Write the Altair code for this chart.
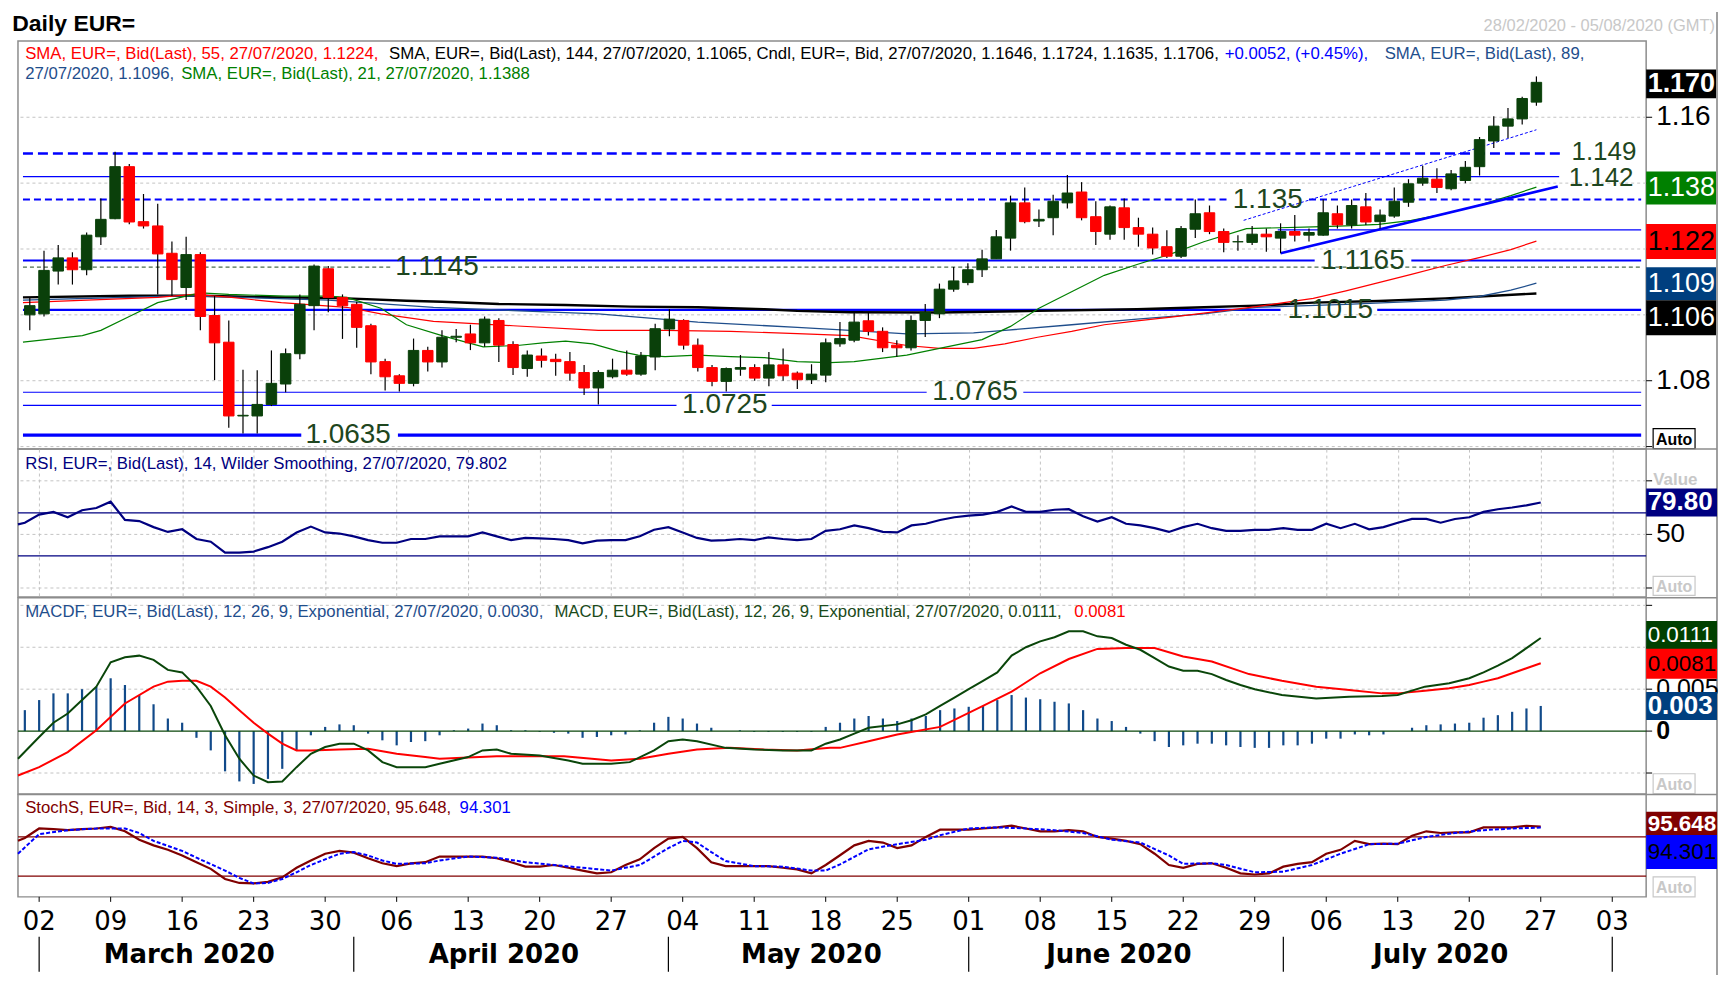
import altair as alt
import pandas as pd

FONT = "Liberation Sans"
GRID = "#c3c3c3"
BLUE = "#0000ff"
LVL_TXT = "#1e4620"
UP = "#0a400a"
DOWN = "#ff0000"

W = 1631.5
H_MAIN, H_RSI, H_MACD, H_ST = 409, 148.2, 196.6, 102.7
X_DOMAIN = [-1.48, 112.37]
EDGE = -1.48
RIGHT = 1702.5   # right frame, relative to the plot's left edge

# ---------------- candles (trading-day index: 0 = Mon 02/03/2020, -1 = Fri 28/02/2020) ----------------
day_index = list(range(-1, 106))
opens = [1.1000,
         1.1003, 1.1133, 1.1173, 1.1137, 1.1237, 1.1292, 1.1450, 1.1283, 1.1270, 1.1187,
         1.1083, 1.1183, 1.0998, 1.0917, 1.0693, 1.0693, 1.0728, 1.0790, 1.0882, 1.1028,
         1.1140, 1.1053, 1.1032, 1.0967, 1.0858, 1.0815, 1.0792, 1.0892, 1.0857, 1.0932,
         1.0942, 1.0915, 1.0983, 1.0910, 1.0837, 1.0875, 1.0865, 1.0858, 1.0825, 1.0778,
         1.0812, 1.0832, 1.0820, 1.0872, 1.0957, 1.0983, 1.0908, 1.0840, 1.0798, 1.0835,
         1.0840, 1.0808, 1.0848, 1.0823, 1.0803, 1.0817, 1.0912, 1.0923, 1.0982, 1.0950,
         1.0908, 1.0900, 1.0983, 1.1003, 1.1078, 1.1098, 1.1137, 1.1170, 1.1233, 1.1340,
         1.1285, 1.1295, 1.1340, 1.1373, 1.1298, 1.1245, 1.1325, 1.1265, 1.1245, 1.1207,
         1.1178, 1.1260, 1.1310, 1.1253, 1.1222, 1.1220, 1.1245, 1.1233, 1.1253, 1.1242,
         1.1242, 1.1307, 1.1273, 1.1328, 1.1283, 1.1300, 1.1342, 1.1400, 1.1412, 1.1383,
         1.1408, 1.1450, 1.1528, 1.1573, 1.1595, 1.1646]
highs = [1.1053,
         1.1195, 1.1212, 1.1190, 1.1250, 1.1353, 1.1495, 1.1458, 1.1367, 1.1337, 1.1223,
         1.1237, 1.1190, 1.1057, 1.0983, 1.0833, 1.0832, 1.0892, 1.0898, 1.1062, 1.1153,
         1.1148, 1.1062, 1.1040, 1.0973, 1.0867, 1.0820, 1.0928, 1.0903, 1.0953, 1.0957,
         1.0970, 1.0995, 1.0990, 1.0920, 1.0892, 1.0898, 1.0882, 1.0887, 1.0848, 1.0832,
         1.0867, 1.0892, 1.0887, 1.0973, 1.1017, 1.0987, 1.0928, 1.0848, 1.0840, 1.0878,
         1.0850, 1.0887, 1.0898, 1.0828, 1.0850, 1.0928, 1.0978, 1.1007, 1.1007, 1.0962,
         1.0923, 1.0998, 1.1033, 1.1095, 1.1145, 1.1157, 1.1198, 1.1258, 1.1362, 1.1387,
         1.1320, 1.1365, 1.1425, 1.1403, 1.1345, 1.1332, 1.1353, 1.1295, 1.1265, 1.1257,
         1.1270, 1.1350, 1.1332, 1.1262, 1.1242, 1.1270, 1.1262, 1.1278, 1.1303, 1.1262,
         1.1350, 1.1332, 1.1350, 1.1370, 1.1320, 1.1387, 1.1412, 1.1453, 1.1445, 1.1440,
         1.1467, 1.1540, 1.1603, 1.1628, 1.1662, 1.1724]
lows = [1.0953,
        1.0995, 1.1092, 1.1092, 1.1120, 1.1212, 1.1290, 1.1275, 1.1262, 1.1062, 1.1057,
        1.1045, 1.0953, 1.0802, 1.0657, 1.0640, 1.0640, 1.0723, 1.0765, 1.0865, 1.0953,
        1.1008, 1.0927, 1.0900, 1.0820, 1.0770, 1.0767, 1.0783, 1.0828, 1.0840, 1.0917,
        1.0893, 1.0903, 1.0857, 1.0817, 1.0812, 1.0840, 1.0815, 1.0800, 1.0757, 1.0728,
        1.0807, 1.0815, 1.0815, 1.0832, 1.0935, 1.0895, 1.0828, 1.0783, 1.0767, 1.0815,
        1.0800, 1.0783, 1.0800, 1.0775, 1.0790, 1.0795, 1.0903, 1.0917, 1.0937, 1.0887,
        1.0873, 1.0892, 1.0933, 1.0990, 1.1070, 1.1090, 1.1115, 1.1170, 1.1195, 1.1278,
        1.1267, 1.1242, 1.1323, 1.1287, 1.1212, 1.1228, 1.1228, 1.1207, 1.1183, 1.1173,
        1.1173, 1.1233, 1.1245, 1.1190, 1.1195, 1.1212, 1.1192, 1.1187, 1.1223, 1.1223,
        1.1240, 1.1262, 1.1262, 1.1273, 1.1262, 1.1295, 1.1328, 1.1392, 1.1370, 1.1378,
        1.1400, 1.1423, 1.1507, 1.1537, 1.1578, 1.1635]
closes = [1.1028,
          1.1135, 1.1173, 1.1137, 1.1242, 1.1290, 1.1450, 1.1282, 1.1270, 1.1185, 1.1107,
          1.1183, 1.0995, 1.0915, 1.0693, 1.0695, 1.0728, 1.0792, 1.0882, 1.1032, 1.1148,
          1.1053, 1.1028, 1.0962, 1.0857, 1.0812, 1.0792, 1.0892, 1.0857, 1.0932, 1.0935,
          1.0915, 1.0987, 1.0908, 1.0840, 1.0878, 1.0862, 1.0858, 1.0823, 1.0778, 1.0825,
          1.0832, 1.0820, 1.0875, 1.0958, 1.0987, 1.0908, 1.0840, 1.0798, 1.0837, 1.0840,
          1.0808, 1.0848, 1.0815, 1.0803, 1.0820, 1.0915, 1.0928, 1.0978, 1.0950, 1.0900,
          1.0900, 1.0983, 1.1008, 1.1078, 1.1103, 1.1137, 1.1170, 1.1237, 1.1340, 1.1283,
          1.1290, 1.1345, 1.1370, 1.1295, 1.1253, 1.1328, 1.1265, 1.1245, 1.1203, 1.1178,
          1.1262, 1.1307, 1.1253, 1.1220, 1.1222, 1.1245, 1.1237, 1.1253, 1.1242, 1.1250,
          1.1310, 1.1273, 1.1332, 1.1282, 1.1303, 1.1345, 1.1398, 1.1415, 1.1387, 1.1428,
          1.1448, 1.1532, 1.1573, 1.1595, 1.1657, 1.1706]

# ---------------- moving averages (index, value) ----------------
sma21_i = [-1.48, 2.7, 4, 6, 8, 11, 13, 17, 20, 21.3, 23.7, 25.5, 28, 30.9, 33.3, 35.1, 36.7, 38.6, 40.4, 41.8,
           43.7, 46, 48.3, 50.7, 53, 55.3, 57, 60.7, 63, 66, 68, 70, 72.3, 74.6, 76.9, 79.3, 81.6, 84.6, 89.3, 91.6,
           93.9, 96.2, 98.6, 100.9, 103.2, 105]
sma21_v = [1.0917, 1.0937, 1.0953, 1.0995, 1.1037, 1.1067, 1.1062, 1.1057, 1.1057, 1.1053, 1.1020, 1.0970, 1.0937,
           1.0903, 1.0907, 1.0915, 1.0920, 1.0912, 1.0890, 1.0878, 1.0873, 1.0878, 1.0873, 1.0870, 1.0858, 1.0855,
           1.0858, 1.0878, 1.0898, 1.0925, 1.0965, 1.1020, 1.1070, 1.1120, 1.1153, 1.1185, 1.1222, 1.1262, 1.1267,
           1.1270, 1.1275, 1.1287, 1.1307, 1.1332, 1.1362, 1.1388]
sma55_i = [-1.48, 8, 10.5, 13.2, 16.7, 21.3, 23.7, 27.4, 33, 39, 43.7, 48.3, 53, 56.7, 60.7, 63, 65.4, 67.6, 69.9,
           72.3, 74.6, 76.9, 79.3, 81.6, 85.3, 89.3, 91.6, 93.9, 96.2, 98.6, 100.9, 103.2, 105]
sma55_v = [1.1037, 1.1053, 1.1062, 1.1053, 1.1037, 1.1023, 1.1003, 1.0980, 1.0967, 1.0953, 1.0953, 1.0950, 1.0943,
           1.0937, 1.0907, 1.0898, 1.0898, 1.0912, 1.0932, 1.0950, 1.0970, 1.0982, 1.0993, 1.1005, 1.1025, 1.1050,
           1.1073, 1.1098, 1.1123, 1.1150, 1.1173, 1.1198, 1.1224]
sma89_i = [-1.48, 10, 20, 27.4, 33, 39, 46, 53, 56.7, 60.7, 65.4, 67.6, 72.3, 76.9, 81.6, 85.3, 91.6, 96.2, 98.6,
           100.9, 103.2, 105]
sma89_v = [1.1045, 1.1058, 1.1045, 1.1023, 1.1013, 1.1003, 1.0978, 1.0962, 1.0953, 1.0942, 1.0945, 1.0953, 1.0970,
           1.0987, 1.1003, 1.1023, 1.1032, 1.1040, 1.1045, 1.1055, 1.1075, 1.1096]
sma144_i = [-1.48, 6, 11, 16.7, 21.3, 25.5, 28, 32, 36.7, 41.3, 46, 50.7, 53, 56.7, 63, 69.9, 76.9, 81.6, 85.3,
            89.3, 93.9, 98.6, 102, 105]
sma144_v = [1.1053, 1.1058, 1.1058, 1.1053, 1.1050, 1.1043, 1.1040, 1.1033, 1.1030, 1.1025, 1.1023, 1.1017, 1.1012,
            1.1008, 1.1007, 1.1012, 1.1017, 1.1023, 1.1028, 1.1037, 1.1042, 1.1050, 1.1058, 1.1065]

# ---------------- support / resistance levels ----------------
seg_level = [1.149, 1.142, 1.135, 1.135, 1.1258, 1.1165, 1.1165, 1.1145, 1.1145, 1.1015, 1.1015,
             1.0765, 1.0765, 1.0725, 1.0725, 1.0635, 1.0635]
seg_start = [EDGE, EDGE, EDGE, 89.0, 86.8, EDGE, 96.2, EDGE, 30.9, EDGE, 93.8,
             EDGE, 68.9, EDGE, 51.2, EDGE, 24.9]
seg_end = [106.8, 106.6, 83.2, 112.37, 112.37, 89.4, 112.37, 24.4, 112.37, 87.0, 112.37,
           62.1, 112.37, 44.5, 112.37, 18.1, 112.37]
seg_style = ["thickdash", "thin", "meddash", "meddash", "thin", "thick", "thick", "greendash", "greendash",
             "thick", "thick", "thin", "thin", "thin", "thin", "heavy", "heavy"]
styles = {"thickdash": (BLUE, 2.6, [10, 5]), "thin": (BLUE, 1.2, None), "meddash": (BLUE, 2.0, [7, 4]),
          "thick": (BLUE, 2.2, None), "greendash": (LVL_TXT, 1.0, [4, 3]), "heavy": (BLUE, 3.2, None)}
lab_text = ["1.149", "1.142", "1.135", "1.1165", "1.1145", "1.1015", "1.0765", "1.0725", "1.0635"]
lab_idx = [109.75, 109.55, 86.1, 92.8, 27.65, 90.5, 65.5, 47.9, 21.4]
lab_level = [1.1494, 1.1416, 1.135, 1.1165, 1.1145, 1.1015, 1.0765, 1.0725, 1.0635]
lab_size = [26, 26, 28, 28, 28, 28, 28, 28, 28]

trend_x0 = [87.0, 84.4]
trend_y0 = [1.1187, 1.1287]
trend_x1 = [106.5, 105.0]
trend_y1 = [1.1390, 1.1562]

# ---------------- indicators ----------------
ind_index = [EDGE] + list(range(-1, 106))
rsi = [59.4, 60.9,
       68.5, 71, 66, 72.5, 74.6, 80.5, 63.5, 62.4, 56.8, 52.3,
       54.8, 45.7, 43.2, 33, 33, 34, 38.1, 43.2, 51.8, 57.3,
       51.8, 50.8, 48.2, 44.7, 42.2, 42.2, 45.7, 45.7, 48.2, 48.2,
       48.2, 51.8, 48.2, 44.7, 46.7, 46.2, 45.7, 44.7, 41.6, 44.2,
       44.7, 44.7, 48.2, 54.3, 56.8, 51.8, 46.7, 44.2, 44.7, 45.7,
       44.7, 47.2, 45.7, 44.7, 45.7, 53.3, 54.8, 58.4, 55.8, 52.3,
       51.8, 58.4, 59.9, 63.4, 66, 67.5, 68.5, 71, 76.1, 71,
       71, 73, 73.5, 67, 61.9, 66, 59.9, 58.4, 55.8, 52.3,
       56.8, 59.9, 55.8, 53.3, 53.3, 54.3, 54.3, 55.8, 54.3, 54.3,
       59.9, 55.8, 59.9, 54.8, 56.8, 60.9, 64.4, 64.4, 60.9, 64.4,
       66, 71, 73.5, 75.1, 77.1, 79.8]
stoch_k = [74, 78.3,
           92.9, 92, 90.3, 92, 92.9, 95.4, 88.6, 75.7, 67.1, 60.3,
           51.7, 41.4, 31.2, 15.7, 9.7, 8.9, 11.4, 18.3, 32.9, 44,
           54.3, 58.6, 56, 47.4, 39.7, 35.4, 39.7, 41.4, 50, 50,
           50, 50, 47.4, 41.4, 34.6, 34.6, 37.1, 32.9, 28.6, 24.3,
           26, 37.1, 45.7, 62.9, 77.4, 80, 62.9, 41.4, 35.4, 35.4,
           35.4, 35.4, 32.9, 30.3, 24.3, 37.1, 52, 67.1, 74, 71.4,
           62.9, 67.1, 80, 91.1, 91.1, 91.1, 92.9, 94.6, 97.1, 92.9,
           88.6, 88.6, 90.3, 88.6, 80, 77.4, 74, 68.9, 54.3, 37.1,
           32.9, 38.9, 39.7, 32.9, 24.3, 22.6, 24.3, 34.6, 38.9, 41.4,
           54.3, 60.3, 74, 68.9, 69.7, 68.9, 81.7, 88.6, 86, 86.9,
           86.9, 94.6, 94.6, 94.6, 97.1, 95.6]
stoch_d_i = [EDGE, 0, 2, 4, 6, 7, 8, 10, 11, 13, 14, 15, 16, 17, 18, 19, 20, 21, 22, 23, 24, 25, 27, 28, 30, 32, 34,
             36, 38, 40, 42, 43, 44, 45, 46, 47, 48, 50, 52, 54, 55, 56, 58, 60, 62, 63, 65, 67, 69, 71, 73, 75, 77,
             79, 80, 82, 83, 85, 87, 89, 91, 93, 95, 97, 99, 101, 103, 105]
stoch_d_v = [54.3, 84.3, 90.3, 92.9, 92.9, 86, 74, 58.6, 48.3, 28.6, 17.4, 8.9, 9.7, 15.7, 26, 37.1, 45.7, 54.3,
             56.9, 51.7, 44, 38.9, 39.7, 44, 50, 48.3, 41.4, 37.1, 32.9, 28.6, 37.1, 50, 62.9, 74, 71.4, 56.9, 43.1,
             35.4, 34.6, 28.6, 28.6, 38, 61.1, 68.9, 75.7, 82.6, 92.9, 94.6, 92.9, 90.3, 86, 75.7, 71.4, 51.7, 38.9,
             39.7, 37.1, 26, 26.9, 37.1, 54.3, 68.9, 69.7, 80, 86, 90.3, 92.9, 94.3]
macd_hist = [0.0025,
             0.0037, 0.0045, 0.0045, 0.0050, 0.0053, 0.0063, 0.0055, 0.0043, 0.0032, 0.0015,
             0.0010, -0.0008, -0.0023, -0.0048, -0.0060, -0.0063, -0.0057, -0.0045, -0.0023, -0.0005,
             0.0005, 0.0008, 0.0007, -0.0003, -0.0011, -0.0017, -0.0013, -0.0012, -0.0005, 0.0001,
             0.0003, 0.0009, 0.0007, 0.0001, 0.0001, -0.0001, -0.0002, -0.0003, -0.0008, -0.0007,
             -0.0005, -0.0004, 0.0001, 0.0010, 0.0017, 0.0015, 0.0009, 0.0004, 0.0000, 0.0001,
             -0.0001, -0.0001, -0.0001, -0.0001, -0.0001, 0.0005, 0.0010, 0.0015, 0.0018, 0.0015,
             0.0012, 0.0015, 0.0018, 0.0025, 0.0027, 0.0029, 0.0030, 0.0037, 0.0043, 0.0040,
             0.0038, 0.0035, 0.0033, 0.0025, 0.0015, 0.0012, 0.0005, -0.0003, -0.0012, -0.0019,
             -0.0017, -0.0015, -0.0015, -0.0017, -0.0019, -0.0020, -0.0020, -0.0017, -0.0017, -0.0015,
             -0.0009, -0.0009, -0.0004, -0.0005, -0.0004, 0.0000, 0.0004, 0.0007, 0.0008, 0.0009,
             0.0010, 0.0016, 0.0019, 0.0023, 0.0027, 0.0030]
macd_i = [EDGE, 0, 1, 2, 3, 4, 5, 6, 7, 8,
          9, 10, 11, 12, 13, 14, 15, 16, 17, 18, 19, 20, 21, 22, 23, 24, 25, 26, 27, 28,
          30, 31, 32, 33, 35, 37, 38, 40, 41.3, 43,
          44, 45, 46, 48, 50, 52, 54, 55, 56, 57,
          58, 60, 61, 62, 63, 64, 65, 66, 67, 68,
          69, 70, 71, 72, 73, 74, 75, 76, 77, 78, 79, 80, 81, 82, 83, 84, 85,
          86.9, 89.3, 91.6, 93.9, 95, 96.9, 98.6, 100, 101, 102,
          103, 104, 105]
macd_v = [-0.0033, -0.0007, 0.0010, 0.0021, 0.0037, 0.0053, 0.0082, 0.0088, 0.0090, 0.0085,
          0.0073, 0.0070, 0.0053, 0.0030, -0.0005, -0.0033, -0.0053, -0.0061, -0.0060, -0.0043,
          -0.0027, -0.0019, -0.0015, -0.0015, -0.0023, -0.0037, -0.0043, -0.0043, -0.0043, -0.0039,
          -0.0031, -0.0023, -0.0022, -0.0027, -0.0029, -0.0035, -0.0039, -0.0039, -0.0037, -0.0023,
          -0.0012, -0.0010, -0.0012, -0.0020, -0.0022, -0.0023, -0.0023, -0.0015, -0.0010, -0.0003,
          0.0004, 0.0008, 0.0013, 0.0020, 0.0030, 0.0040, 0.0050, 0.0060, 0.0070, 0.0090,
          0.0100, 0.0107, 0.0112, 0.0119, 0.0119, 0.0113, 0.0111, 0.0103, 0.0097, 0.0087, 0.0077,
          0.0072, 0.0072, 0.0068, 0.0061, 0.0055, 0.0050,
          0.0043, 0.0039, 0.0041, 0.0042, 0.0043, 0.0053, 0.0057, 0.0063, 0.0070, 0.0078,
          0.0087, 0.0099, 0.0111]
sig_i = [EDGE, 0, 2, 4, 6, 8, 9, 10, 11, 12, 13, 14, 15, 16, 17, 18, 19, 21, 23, 25, 27, 28, 32, 36.7, 40, 42,
         44, 46, 48.3, 50.7, 53, 55.3, 56, 58, 60, 63, 66, 68, 70, 72, 74, 76, 78, 80, 82, 84.6, 86.9, 89.3, 91.6,
         93.9, 95, 96.9, 98.6, 100, 101, 102, 103, 104, 105]
sig_v = [-0.0053, -0.0043, -0.0025, 0.0001, 0.0033, 0.0053, 0.0059, 0.0060, 0.0060, 0.0053, 0.0040, 0.0025,
         0.0010, -0.0003, -0.0015, -0.0023, -0.0023, -0.0022, -0.0021, -0.0027, -0.0031, -0.0033, -0.0030,
         -0.0030, -0.0035, -0.0033, -0.0027, -0.0022, -0.0020, -0.0022, -0.0023, -0.0020, -0.0020, -0.0012,
         -0.0004, 0.0005, 0.0030, 0.0047, 0.0069, 0.0086, 0.0098, 0.0099, 0.0099, 0.0089, 0.0083, 0.0068,
         0.0060, 0.0053, 0.0049, 0.0045, 0.0045, 0.0048, 0.0051, 0.0055, 0.0059, 0.0063, 0.0069, 0.0075, 0.0081]

# ---------------- axis ticks / labels / grids ----------------
day_ticks = list(range(0, 111, 5))
day_labels = ["02", "09", "16", "23", "30", "06", "13", "20", "27", "04", "11", "18", "25",
              "01", "08", "15", "22", "29", "06", "13", "20", "27", "03"]
month_names = ["March 2020", "April 2020", "May 2020", "June 2020", "July 2020"]
month_mid = [10.5, 32.5, 54.0, 75.5, 98.0]
month_start = [0, 22, 44, 65, 87, 110]
price_grid = [1.06, 1.08, 1.10, 1.12, 1.14, 1.16]
price_lab_v = [1.08, 1.16]
price_lab_t = ["1.08", "1.16"]
rsi_grid = [0, 50, 100]
rsi_lab_v = [50]
rsi_lab_t = ["50"]
macd_grid = [-0.005, 0.005, 0.010, 0.015]
macd_ticks = [-0.005, 0, 0.005, 0.010, 0.015]
macd_lab_v = [0.005, 0]
macd_lab_t = ["0.005", "0"]
macd_lab_w = ["normal", "bold"]

# ---------------- helpers ----------------
xs = alt.Scale(domain=X_DOMAIN, nice=False, zero=False)
ys_main = alt.Scale(domain=[1.05924, 1.18318], nice=False, zero=False)
ys_rsi = alt.Scale(domain=[-8.4, 129.6], nice=False, zero=False)
ys_macd = alt.Scale(domain=[-0.0075, 0.0159], nice=False, zero=False)
ys_st = alt.Scale(domain=[-11.6, 145.0], nice=False, zero=False)
one = pd.DataFrame({"k": [0]})
ZW = "\u200b"
BOX_W = RIGHT - W


def xq(f, axis=None):
    return alt.X(f, type="quantitative", scale=xs, axis=axis, title=None)


def yq(f, sc):
    return alt.Y(f, type="quantitative", scale=sc, axis=None, title=None)


def yd(v, sc):
    return alt.YDatum(v, type="quantitative", scale=sc, axis=None)


def label(text, x, y, color="black", size=16.8, weight="normal", align="left",
          baseline="alphabetic", font=FONT):
    return alt.Chart(one).mark_text(text=text, align=align, baseline=baseline, font=font,
                                    fontSize=size, fontWeight=weight, color=color).encode(
        x=alt.value(x), y=alt.value(y))


def vbox(v, sc, bg, fg, text, h, off=0.0, weight="normal", size=27):
    rect = alt.Chart(one).mark_tick(orient="horizontal", size=BOX_W, thickness=h, color=bg,
                                    opacity=1, yOffset=off).encode(x=alt.value(W + BOX_W / 2), y=yd(v, sc))
    t = alt.Chart(one).mark_text(text=text, align="left", baseline="middle", font=FONT,
                                 fontSize=size, fontWeight=weight, color=fg, dy=off,
                                 limit=BOX_W - 0.5, ellipsis=ZW).encode(x=alt.value(W + 1.5), y=yd(v, sc))
    return [rect, t]


def auto_box(y0, y1, color):
    r = alt.Chart(one).mark_rect(fill="white", stroke=color, strokeWidth=1.2).encode(
        x=alt.value(W + 7), x2=alt.value(W + 49), y=alt.value(y0), y2=alt.value(y1))
    t = label("Auto", W + 28, (y0 + y1) / 2 + 1, color=color, size=16, weight="bold",
              align="center", baseline="middle")
    return [r, t]


def boundary():
    return alt.Chart(one).mark_rule(color="#8c8c8c", strokeWidth=1.5).encode(
        x=alt.value(W), x2=alt.value(RIGHT), y=alt.value(0))


def hgrid(values, sc):
    return alt.Chart(pd.DataFrame({"g": values})).mark_rule(
        color=GRID, strokeDash=[3, 3], strokeWidth=1).encode(y=yq("g", sc))


def yticks(values, sc):
    return alt.Chart(pd.DataFrame({"g": values})).mark_rule(color="black", strokeWidth=1).encode(
        x=alt.value(W), x2=alt.value(W + 6), y=yq("g", sc))


def ylabels(values, texts, sc, size, weights=None):
    df = pd.DataFrame({"v": values, "t": texts, "w": weights or ["normal"] * len(values)})
    out = []
    for w in sorted(set(df["w"])):
        out.append(alt.Chart(df[df["w"] == w]).mark_text(
            font=FONT, fontSize=size, fontWeight=w, color="black", align="left", baseline="middle").encode(
            x=alt.value(W + 10), y=yq("v", sc), text="t:N"))
    return out


xgrid = alt.Axis(values=day_ticks, grid=True, gridColor=GRID, gridDash=[3, 3], gridWidth=1,
                 labels=False, ticks=False, domain=False, title=None)

# ---------------- main panel ----------------
cdf = pd.DataFrame({"i": day_index, "o": opens, "h": highs, "l": lows, "c": closes})
cdf["d"] = ["up" if c >= o else "down" for o, c in zip(opens, closes)]
cscale = alt.Scale(domain=["up", "down"], range=[UP, DOWN])

seg_df = pd.DataFrame({"v": seg_level, "a": seg_start, "b": seg_end, "s": seg_style})
main_layers = [hgrid(price_grid, ys_main), yticks(price_grid, ys_main)]
main_layers += ylabels(price_lab_v, price_lab_t, ys_main, 28)
for sname, (col, sw, dash) in styles.items():
    sub = seg_df[seg_df["s"] == sname]
    kw = {"color": col, "strokeWidth": sw}
    if dash:
        kw["strokeDash"] = dash
    main_layers.append(alt.Chart(sub).mark_rule(**kw).encode(
        x=xq("a"), x2="b:Q", y=yq("v", ys_main)))

for si, sv, col, sw in [(sma144_i, sma144_v, "black", 2.4), (sma89_i, sma89_v, "#1f4e8c", 1.3),
                        (sma55_i, sma55_v, "#ff0000", 1.2), (sma21_i, sma21_v, "#008000", 1.2)]:
    main_layers.append(alt.Chart(pd.DataFrame({"i": si, "v": sv})).mark_line(
        color=col, strokeWidth=sw).encode(x=xq("i"), y=yq("v", ys_main)))

tdf = pd.DataFrame({"x0": trend_x0, "y0": trend_y0, "x1": trend_x1, "y1": trend_y1})
main_layers.append(alt.Chart(tdf.iloc[[0]]).mark_rule(color=BLUE, strokeWidth=2.6).encode(
    x=xq("x0"), x2="x1:Q", y=yq("y0", ys_main), y2="y1:Q"))
main_layers.append(alt.Chart(tdf.iloc[[1]]).mark_rule(color=BLUE, strokeWidth=1, strokeDash=[3, 2]).encode(
    x=xq("x0"), x2="x1:Q", y=yq("y0", ys_main), y2="y1:Q"))

main_layers.append(alt.Chart(cdf).mark_rule(color="black", strokeWidth=1.2).encode(
    x=xq("i", xgrid), y=yq("l", ys_main), y2="h:Q"))
main_layers.append(alt.Chart(cdf).mark_bar(size=10.5, strokeWidth=1).encode(
    x=xq("i"), y=yq("o", ys_main), y2="c:Q",
    color=alt.Color("d:N", scale=cscale, legend=None),
    stroke=alt.Stroke("d:N", scale=cscale, legend=None)))

ldf = pd.DataFrame({"t": lab_text, "x": lab_idx, "v": lab_level, "s": lab_size})
for fs in sorted(set(lab_size)):
    main_layers.append(alt.Chart(ldf[ldf["s"] == fs]).mark_text(
        font=FONT, fontSize=fs, color=LVL_TXT, align="center", baseline="middle").encode(
        x=xq("x"), y=yq("v", ys_main), text="t:N"))

main_layers += [
    label("SMA, EUR=, Bid(Last),  55, 27/07/2020, 1.1224, ", 7.2, 18.5, "#ff0000"),
    label("SMA, EUR=, Bid(Last),  144, 27/07/2020, 1.1065, Cndl, EUR=, Bid, 27/07/2020, 1.1646, 1.1724, 1.1635, 1.1706, ",
          371.9, 18.5, "black"),
    label("+0.0052, (+0.45%), ", 1209.2, 18.5, "#0000ff"),
    label("SMA, EUR=, Bid(Last),  89, ", 1369.5, 18.5, "#1f4e8c"),
    label("27/07/2020, 1.1096, ", 7.2, 38.5, "#1f4e8c"),
    label("SMA, EUR=, Bid(Last),  21, 27/07/2020, 1.1388", 163.5, 38.5, "#008000"),
    label("Daily EUR=", -5.8, -10.2, "black", size=23, weight="bold"),
    label("28/02/2020 - 05/08/2020 (GMT)", RIGHT - 2, -9.5, "#c8c8c8", size=16.5, align="right"),
]
main_layers += vbox(1.1706, ys_main, "black", "white", "1.1706", 29, 1.5, "bold", 27)
main_layers += vbox(1.1388, ys_main, "#008000", "white", "1.1388", 33, 1, "normal", 27)
main_layers += vbox(1.1224, ys_main, "#ff0000", "black", "1.1224", 35, 0.5, "normal", 27)
main_layers += vbox(1.1096, ys_main, "#003f7f", "white", "1.1096", 33, 0.5, "normal", 27)
main_layers += vbox(1.1065, ys_main, "black", "white", "1.1065", 35, 24.3, "normal", 27)
main_layers += auto_box(388.5, 408.5, "black")
main_layers.append(alt.Chart(one).mark_rule(color="white", strokeWidth=1).encode(
    x=alt.value(-8), x2=alt.value(-7.5), y=alt.value(-30)))
main_layers.append(alt.Chart(one).mark_rule(color="#a0a0a0", strokeWidth=2).encode(
    x=alt.value(RIGHT), y=alt.value(-29), y2=alt.value(936)))

main = alt.layer(*main_layers).properties(width=W, height=H_MAIN)

# ---------------- RSI panel ----------------
rdf = pd.DataFrame({"i": ind_index, "r": rsi})
rsi_layers = [
    hgrid(rsi_grid, ys_rsi),
    yticks(rsi_grid, ys_rsi),
    alt.Chart(rdf).mark_line(color="#000080", strokeWidth=2.2).encode(
        x=xq("i", xgrid), y=yq("r", ys_rsi)),
    alt.Chart(one).mark_rule(color="#000080", strokeWidth=1.2).encode(y=yd(70, ys_rsi)),
    alt.Chart(one).mark_rule(color="#000080", strokeWidth=1.2).encode(y=yd(30, ys_rsi)),
    label("RSI, EUR=, Bid(Last),  14, Wilder Smoothing, 27/07/2020, 79.802", 7.2, 19.5, "#000080"),
    label("Value", W + 7, 35.5, "#c8c8c8", size=17, weight="bold"),
    boundary(),
]
rsi_layers += ylabels(rsi_lab_v, rsi_lab_t, ys_rsi, 26)
rsi_layers += vbox(79.802, ys_rsi, "#000080", "white", "79.802", 28, 0, "bold", 26)
rsi_layers += auto_box(127.5, 146.5, "#c8c8c8")
rsi_panel = alt.layer(*rsi_layers).properties(width=W, height=H_RSI)

# ---------------- MACD panel ----------------
hdf = pd.DataFrame({"i": day_index, "h": macd_hist})
macd_layers = [
    hgrid(macd_grid, ys_macd),
    yticks(macd_ticks, ys_macd),
]
macd_layers += ylabels(macd_lab_v, macd_lab_t, ys_macd, 25, macd_lab_w)
macd_layers += [
    alt.Chart(hdf).mark_rule(color="#114a8a", strokeWidth=2.2).encode(
        x=xq("i", xgrid), y=yq("h", ys_macd), y2=alt.datum(0)),
    alt.Chart(one).mark_rule(color="#0a460a", strokeWidth=1.2).encode(y=yd(0, ys_macd)),
    alt.Chart(pd.DataFrame({"i": sig_i, "v": sig_v})).mark_line(color="#ff0000", strokeWidth=2).encode(
        x=xq("i"), y=yq("v", ys_macd)),
    alt.Chart(pd.DataFrame({"i": macd_i, "v": macd_v})).mark_line(color="#0a460a", strokeWidth=2).encode(
        x=xq("i"), y=yq("v", ys_macd)),
    label("MACDF, EUR=, Bid(Last),  12, 26, 9, Exponential, 27/07/2020, 0.0030, ", 7.2, 19.3, "#1f4e8c"),
    label("MACD, EUR=, Bid(Last),  12, 26, 9, Exponential, 27/07/2020, 0.0111, ", 537.5, 19.3, "#1a4a1a"),
    label("0.0081", 1058.5, 19.3, "#ff0000"),
    boundary(),
]
macd_layers += vbox(0.0111, ys_macd, "#004000", "white", "0.0111", 28, -3, "normal", 22.5)
macd_layers += vbox(0.0081, ys_macd, "#ff0000", "black", "0.0081", 30, 0.5, "normal", 22.5)
macd_layers += vbox(0.0030, ys_macd, "#003f7f", "white", "0.0030", 28, 0, "bold", 26)
macd_layers += auto_box(176.3, 196.3, "#c8c8c8")
macd_panel = alt.layer(*macd_layers).properties(width=W, height=H_MACD)

# ---------------- Stochastic panel ----------------
kdf = pd.DataFrame({"i": ind_index, "k": stoch_k})
mdf = pd.DataFrame({"c": month_mid, "t": month_names})
sdf = pd.DataFrame({"s": month_start})
ddf = pd.DataFrame({"i": day_ticks, "t": day_labels})
st_layers = [
    alt.Chart(kdf).mark_line(color="#800000", strokeWidth=2.2).encode(
        x=xq("i", xgrid), y=yq("k", ys_st)),
    alt.Chart(one).mark_rule(color="#800000", strokeWidth=1.2).encode(y=yd(80, ys_st)),
    alt.Chart(one).mark_rule(color="#800000", strokeWidth=1.2).encode(y=yd(20, ys_st)),
    alt.Chart(pd.DataFrame({"i": stoch_d_i, "v": stoch_d_v})).mark_line(
        color="#0000ff", strokeWidth=2, strokeDash=[4, 2]).encode(x=xq("i"), y=yq("v", ys_st)),
    label("StochS, EUR=, Bid,  14, 3, Simple, 3, 27/07/2020, 95.648, ", 7.2, 18.7, "#800000"),
    label("94.301", 442.5, 18.7, "#0000ff"),
    boundary(),
    alt.Chart(ddf).mark_rule(color="black", strokeWidth=1).encode(
        x=xq("i"), y=alt.value(H_ST), y2=alt.value(H_ST + 5)),
    alt.Chart(ddf).mark_text(font="DejaVu Sans", fontSize=26, color="black",
                             baseline="alphabetic", align="center").encode(
        x=xq("i"), y=alt.value(135.7), text="t:N"),
    alt.Chart(mdf).mark_text(font="DejaVu Sans", fontSize=26, fontWeight="bold", color="black",
                             baseline="middle", align="center").encode(
        x=xq("c"), y=alt.value(160.7), text="t:N"),
    alt.Chart(sdf).mark_rule(color="black", strokeWidth=1.2).encode(
        x=xq("s"), y=alt.value(142.7), y2=alt.value(177.7)),
]
st_layers += vbox(95.648, ys_st, "#800000", "white", "95.648", 24, -3, "bold", 22.5)
st_layers += vbox(94.301, ys_st, "#0000ff", "black", "94.301", 34, 24.4, "normal", 22.5)
st_layers += auto_box(82.7, 102.7, "#c8c8c8")
st_panel = alt.layer(*st_layers).properties(width=W, height=H_ST)

chart = alt.vconcat(main, rsi_panel, macd_panel, st_panel, spacing=0, bounds="flush").properties(
    padding=0, background="white").configure_view(stroke="#8c8c8c", strokeWidth=1.5)

chart.save("out.html", embed_options={"renderer": "svg", "actions": False})
